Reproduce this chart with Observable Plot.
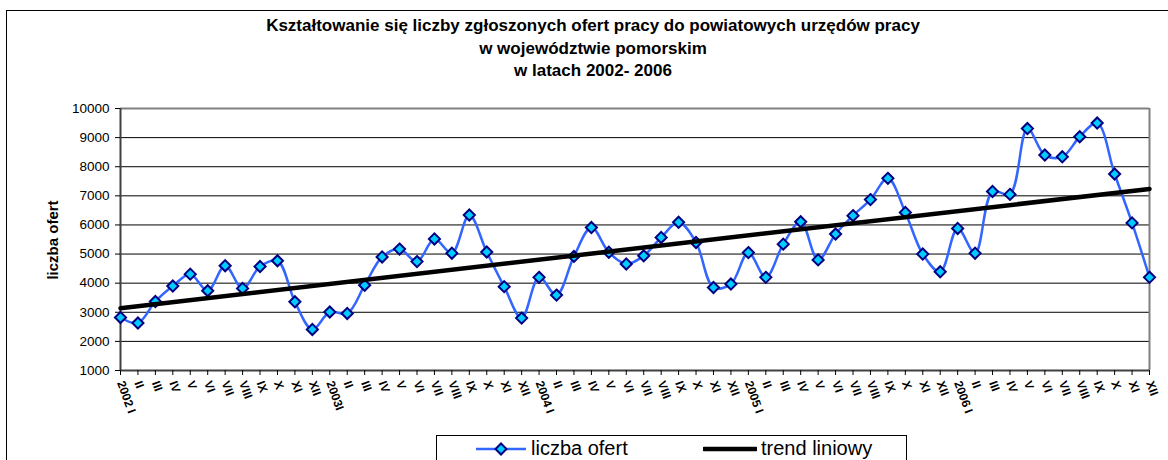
<!DOCTYPE html>
<html>
<head>
<meta charset="utf-8">
<script src="https://cdn.jsdelivr.net/npm/d3@7"></script>
<script src="https://cdn.jsdelivr.net/npm/@observablehq/plot@0.6"></script>
<style>
  body { margin: 0; background: #fff; font-family: "Liberation Sans", Arial, sans-serif; }
  #wrap { position: relative; width: 1168px; height: 460px; overflow: hidden; background: #fff; }
  #frame { position: absolute; left: 6px; top: 10px; width: 1180px; height: 470px; border: 1.5px solid #000; box-sizing: border-box; }
  #chart { position: absolute; left: 0; top: 0; }
  #title { position: absolute; left: 193px; width: 800px; top: 15px; text-align: center; font-weight: bold; font-size: 17px; line-height: 22.5px; color: #000; }
  #ylabel { position: absolute; left: 52px; top: 240px; transform: translate(-50%, -50%) rotate(-90deg); font-weight: bold; font-size: 15px; white-space: nowrap; }
  #legend { position: absolute; left: 436px; top: 435px; width: 471px; height: 26px; border: 1px solid #000; box-sizing: border-box; background: #fff; font-size: 20px; }
  #legend .item { position: absolute; top: 0; height: 24px; display: flex; align-items: center; white-space: nowrap; }
</style>
</head>
<body>
<div id="wrap">
  <div id="frame"></div>
  <div id="chart"></div>
  <div id="title">Kształtowanie się liczby zgłoszonych ofert pracy do powiatowych urzędów pracy<br>w województwie pomorskim<br>w latach 2002- 2006</div>
  <div id="ylabel">liczba ofert</div>
  <div id="legend">
    <div class="item" style="left:38px">
      <svg width="52" height="24"><line x1="1" y1="13" x2="51" y2="13" stroke="#3366FF" stroke-width="2.5"/><path d="M26,7.5L31.5,13L26,18.5L20.5,13Z" fill="#00CCFF" stroke="#000080" stroke-width="2"/></svg>
      <span style="margin-left:4px">liczba ofert</span>
    </div>
    <div class="item" style="left:266px">
      <svg width="54" height="24"><line x1="1" y1="13" x2="53" y2="13" stroke="#000" stroke-width="4.5" stroke-linecap="round"/></svg>
      <span style="margin-left:4px">trend liniowy</span>
    </div>
  </div>
</div>
<script>
const tickLabels = [
  "2002 I","II","III","IV","V","VI","VII","VIII","IX","X","XI","XII",
  "2003I","II","III","IV","V","VI","VII","VIII","IX","X","XI","XII",
  "2004 I","II","III","IV","V","VI","VII","VIII","IX","X","XI","XII",
  "2005 I","II","III","IV","V","VI","VII","VIII","IX","X","XI","XII",
  "2006 I","II","III","IV","V","VI","VII","VIII","IX","X","XI","XII"
];
const offers = [
  2820,2630,3370,3900,4310,3740,4600,3820,4570,4770,3360,2410,
  3010,2960,3930,4900,5170,4740,5520,5030,6340,5070,3880,2800,
  4200,3590,4920,5910,5060,4660,4940,5570,6090,5400,3850,3970,
  5050,4200,5340,6110,4800,5690,6320,6870,7600,6430,5000,4390,
  5880,5030,7150,7050,9310,8400,8340,9030,9500,7750,6070,4200
];
const yTicks = [1000,2000,3000,4000,5000,6000,7000,8000,9000,10000];

const data = offers.map((v, i) => ({i, v}));

const chart = Plot.plot({
  width: 1168,
  height: 430,
  marginLeft: 120,
  marginRight: 19,
  marginTop: 108,
  marginBottom: 60,
  style: {background: "transparent", fontFamily: "Liberation Sans, Arial, sans-serif", color: "#000"},
  x: {domain: [0, tickLabels.length - 1], axis: null, label: null},
  y: {domain: [1000, 10000], axis: null, label: null},
  marks: [
    Plot.gridY(yTicks, {stroke: "#000", strokeOpacity: 1, strokeWidth: 1}),
    Plot.ruleY([10000], {stroke: "#808080", strokeWidth: 2}),
    Plot.ruleX([tickLabels.length - 1], {stroke: "#808080", strokeWidth: 2}),
    Plot.ruleX([0], {stroke: "#404040", strokeWidth: 2}),
    Plot.ruleY([1000], {stroke: "#404040", strokeWidth: 2}),
    Plot.axisY({ticks: yTicks, label: null, tickSize: 5, tickPadding: 6, fontSize: 13.5, tickFormat: d => String(d), stroke: "#000"}),
    Plot.axisX({ticks: d3.range(tickLabels.length), label: null, tickFormat: i => tickLabels[i], tickSize: 5, tickPadding: 6, tickRotate: 70, fontSize: 12, fontWeight: "bold", stroke: "#000"}),
    Plot.line(data, {x: "i", y: "v", stroke: "#3366FF", strokeWidth: 2.5, curve: "catmull-rom"}),
    Plot.dot(data, {x: "i", y: "v", symbol: "diamond2", r: 5, fill: "#00CCFF", stroke: "#000080", strokeWidth: 2}),
    Plot.linearRegressionY(data, {x: "i", y: "v", stroke: "#000", strokeWidth: 4.5, ci: 0})
  ]
});
document.getElementById("chart").appendChild(chart);
</script>
</body>
</html>
